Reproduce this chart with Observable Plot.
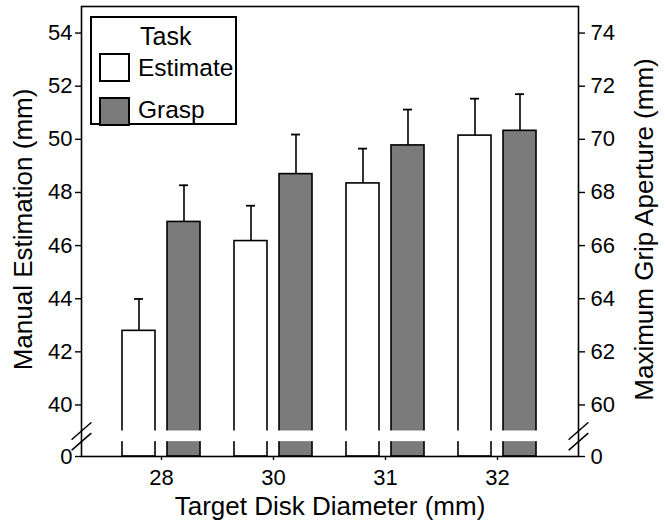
<!DOCTYPE html>
<html>
<head>
<meta charset="utf-8">
<script src="https://cdn.jsdelivr.net/npm/d3@7"></script>
<script src="https://cdn.jsdelivr.net/npm/@observablehq/plot@0.6"></script>
<style>
  html, body { margin: 0; padding: 0; background: white; }
  #wrap { position: relative; width: 665px; height: 523px; font-family: "Liberation Sans", Arial, sans-serif; }
  #legend { position: absolute; left: 90px; top: 16px; width: 143px; height: 105px; border: 2px solid black; background: white; }
  .sw { position: absolute; left: 7px; width: 27px; height: 25px; border: 2px solid black; }
  .lt { position: absolute; line-height: 1; color: black; white-space: nowrap; }
</style>
</head>
<body>
<div id="wrap"></div>
<script>
// ---- data ----
const diameters = ["28", "30", "31", "32"];
const estimateMean = [42.79, 46.17, 48.34, 50.14];   // Manual Estimation (mm)
const estimateSE   = [1.20, 1.33, 1.31, 1.39];
const graspMean    = [66.89, 68.69, 69.77, 70.32];   // Maximum Grip Aperture (mm)
const graspSE      = [1.38, 1.49, 1.35, 1.38];
const leftTicks  = [40, 42, 44, 46, 48, 50, 52, 54];
const rightTicks = [60, 62, 64, 66, 68, 70, 72, 74];
const axisOffset = 20;      // right axis = left axis + 20
const breakBase = 38.06;    // position of the "0" label on the broken axis
const breakGap = [38.62, 39.02];

const estimate = diameters.map((d, i) => ({d, v: estimateMean[i], hi: estimateMean[i] + estimateSE[i]}));
const grasp = diameters.map((d, i) => ({d, v: graspMean[i] - axisOffset, hi: graspMean[i] + graspSE[i] - axisOffset}));

const font = "'Liberation Sans', Arial, sans-serif";
const gray = "#7b7b7b";
const breakShape = {draw(context, l) { context.moveTo(0, 0); context.lineTo(0, -l); }};

const plot = Plot.plot({
  width: 665,
  height: 523,
  marginLeft: 81,
  marginRight: 87,
  marginTop: 6,
  marginBottom: 67,
  style: {fontFamily: font, fontSize: "22px", color: "black", background: "white", overflow: "visible"},
  x: {type: "band", domain: diameters, paddingInner: 0.3009, paddingOuter: 0.3496, axis: null},
  y: {domain: [breakBase, 55], axis: null},
  marks: [
    Plot.barY(estimate, {x: "d", y1: breakBase, y2: "v", fill: "white", stroke: "black", strokeWidth: 1.6, insetRight: 45}),
    Plot.barY(grasp, {x: "d", y1: breakBase, y2: "v", fill: gray, stroke: "black", strokeWidth: 1.6, insetLeft: 45}),
    Plot.ruleX(estimate, {x: "d", y1: "v", y2: "hi", dx: -22.5, stroke: "black", strokeWidth: 1.6}),
    Plot.ruleX(grasp, {x: "d", y1: "v", y2: "hi", dx: 22.5, stroke: "black", strokeWidth: 1.6}),
    Plot.tickY(estimate, {x: "d", y: "hi", insetLeft: 12, insetRight: 57, stroke: "black", strokeWidth: 1.8}),
    Plot.tickY(grasp, {x: "d", y: "hi", insetLeft: 57, insetRight: 12, stroke: "black", strokeWidth: 1.8}),
    Plot.rect([breakGap], {y1: d => d[0], y2: d => d[1], fill: "white"}),
    Plot.frame({stroke: "black", strokeWidth: 1.6}),
    Plot.axisY({anchor: "left", ticks: [breakBase, ...leftTicks], tickFormat: d => d === breakBase ? "0" : String(d),
      tickSize: 6, tickPadding: 3, label: null, fontSize: 22, strokeWidth: 1.4}),
    Plot.axisY({anchor: "right", ticks: [breakBase, ...leftTicks],
      tickFormat: d => d === breakBase ? "0" : String(rightTicks[leftTicks.indexOf(d)]),
      tickSize: 6, tickPadding: 6, label: null, fontSize: 22, strokeWidth: 1.4}),
    Plot.axisX({anchor: "bottom", tickSize: 4, tickPadding: 9, label: null, fontSize: 22, strokeWidth: 1.4}),
    Plot.vector(breakGap, {y: d => d, frameAnchor: "left", length: 25, rotate: 49, anchor: "middle", shape: breakShape, stroke: "black", strokeWidth: 1.5}),
    Plot.vector(breakGap, {y: d => d, frameAnchor: "right", length: 25, rotate: 49, anchor: "middle", shape: breakShape, stroke: "black", strokeWidth: 1.5}),
    Plot.text(["Manual Estimation (mm)"], {text: d => d, frameAnchor: "left", textAnchor: "middle", lineAnchor: "middle", rotate: -90, dx: -58, dy: -2, fontSize: 26, fill: "black"}),
    Plot.text(["Maximum Grip Aperture (mm)"], {text: d => d, frameAnchor: "right", textAnchor: "middle", lineAnchor: "middle", rotate: -90, dx: 66, dy: -2, fontSize: 26, fill: "black"}),
    Plot.text(["Target Disk Diameter (mm)"], {text: d => d, frameAnchor: "bottom", textAnchor: "middle", lineAnchor: "middle", dy: 50, fontSize: 26, fill: "black"})
  ]
});

const wrap = document.getElementById("wrap");
wrap.appendChild(plot);

// legend (drawn inside the plot frame, top-left)
const legend = document.createElement("div");
legend.id = "legend";
legend.innerHTML = `
  <div class="lt" style="left:48px; top:6px; font-size:25px;">Task</div>
  <div class="sw" style="top:35px; background:white;"></div>
  <div class="lt" style="left:46px; top:38px; font-size:24.5px;">Estimate</div>
  <div class="sw" style="top:79px; background:${gray};"></div>
  <div class="lt" style="left:46px; top:80px; font-size:24.5px;">Grasp</div>`;
wrap.appendChild(legend);
</script>
</body>
</html>
